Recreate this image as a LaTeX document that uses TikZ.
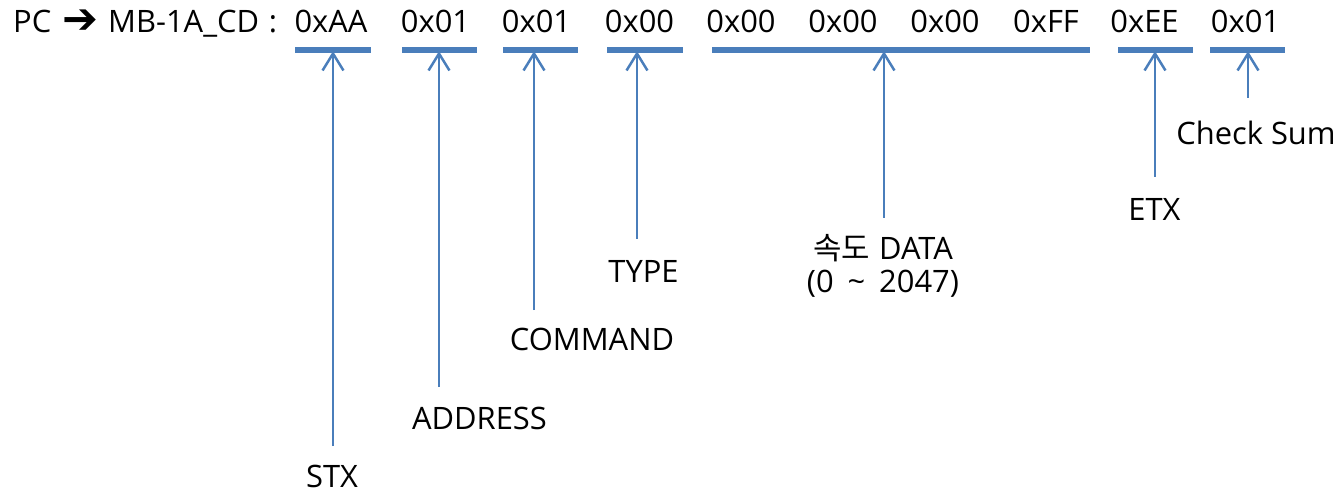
\documentclass[tikz,border=0pt]{standalone}
\usepackage{fontspec}
\setmainfont{Open Sans}
\newfontfamily\krfont{Noto Sans CJK KR}
\newfontfamily\symfont{DejaVu Sans Bold}
\usetikzlibrary{arrows.meta}
\definecolor{pktblue}{RGB}{74,126,187}
\tikzset{
  txt/.style={inner sep=0pt, anchor=base, font=\fontsize{31}{37}\selectfont},
  hdr/.style={txt, anchor=base west},
  bar/.style={fill=pktblue, draw=none, minimum height=6, inner sep=0pt, anchor=west},
  arr/.style={draw=pktblue, line width=2.5, -{Straight Barb[length=17, width=21, line width=2.5]}}
}
\begin{document}
\begin{tikzpicture}[x=1bp, y=-1bp]
\useasboundingbox (0,0) rectangle (1342,492);

% header line
\node[hdr] (pc) at (13,33) {PC};
\node[inner sep=0pt, font=\symfont\fontsize{43}{43}\selectfont] (pcarrow) at (80,22) {➔};
\node[hdr] (dev) at (108,33) {MB-1A\_CD\hspace{0.32em}:};
\node[txt] (h1) at (331,33) {0xAA};
\node[txt] (h2) at (435.5,33) {0x01};
\node[txt] (h3) at (536.5,33) {0x01};
\node[txt] (h4) at (639.5,33) {0x00};
\node[txt] (h5) at (741,33) {0x00};
\node[txt] (h6) at (843,33) {0x00};
\node[txt] (h7) at (945,33) {0x00};
\node[txt] (h8) at (1046,33) {0xFF};
\node[txt] (h9) at (1144.5,33) {0xEE};
\node[txt] (h10) at (1245.5,33) {0x01};

% field underlines
\node[bar, minimum width=76] (b1) at (295,50) {};
\node[bar, minimum width=75] (b2) at (402,50) {};
\node[bar, minimum width=75] (b3) at (503,50) {};
\node[bar, minimum width=76] (b4) at (607,50) {};
\node[bar, minimum width=379] (b5) at (712,50) {};
\node[bar, minimum width=75] (b6) at (1118,50) {};
\node[bar, minimum width=75] (b7) at (1210,50) {};

% field names
\node[txt] (stx) at (332,487) {STX};
\node[txt] (addr) at (479.5,429) {ADDRESS};
\node[txt] (cmd) at (592,350) {COMMAND};
\node[txt] (type) at (643.5,282) {TYPE};
\node[txt] (data) at (883,260) {{\krfont 속도}\hspace{0.3em}DATA};
\node[txt] (range) at (883,292) {(0\hspace{0.45em}\textasciitilde\hspace{0.45em}2047)};
\node[txt] (etx) at (1154.5,221) {ETX};
\node[txt] (csum) at (1256,145) {Check Sum};

% arrow feet
\coordinate (f1) at (333,446);
\coordinate (f2) at (439,387);
\coordinate (f3) at (534,310);
\coordinate (f4) at (637,239);
\coordinate (f5) at (884,218);
\coordinate (f6) at (1155,177);
\coordinate (f7) at (1248,98);

\draw[arr] (f1) -- ([yshift=2]f1 |- b1.south);
\draw[arr] (f2) -- ([yshift=2]f2 |- b2.south);
\draw[arr] (f3) -- ([yshift=2]f3 |- b3.south);
\draw[arr] (f4) -- ([yshift=2]f4 |- b4.south);
\draw[arr] (f5) -- ([yshift=2]f5 |- b5.south);
\draw[arr] (f6) -- ([yshift=2]f6 |- b6.south);
\draw[arr] (f7) -- ([yshift=2]f7 |- b7.south);
\end{tikzpicture}
\end{document}
